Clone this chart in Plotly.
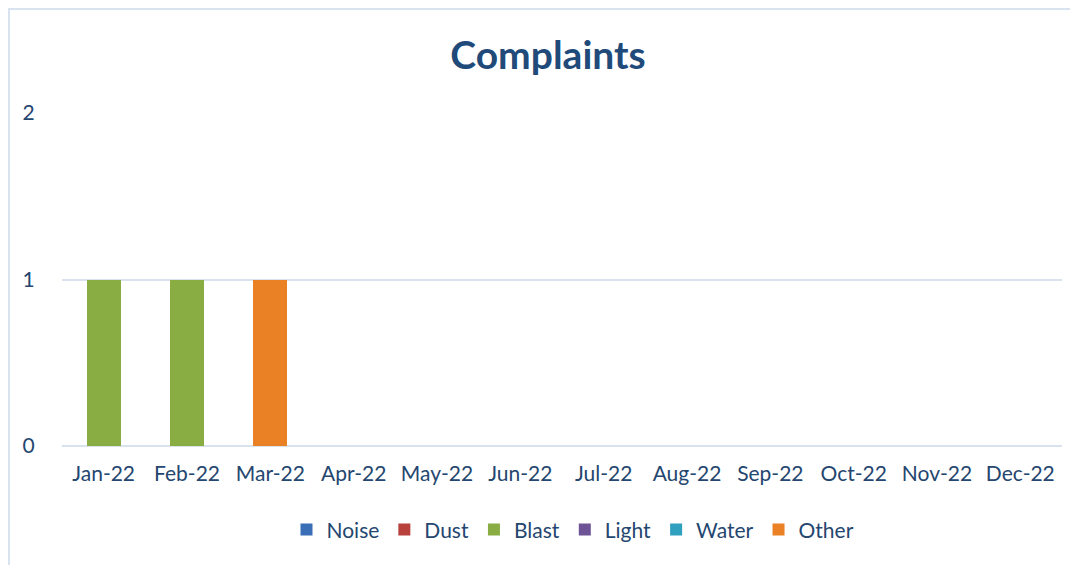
import plotly.graph_objects as go

months = ["Jan-22", "Feb-22", "Mar-22", "Apr-22", "May-22", "Jun-22",
          "Jul-22", "Aug-22", "Sep-22", "Oct-22", "Nov-22", "Dec-22"]
noise = [0, 0, 0, 0, 0, 0, 0, 0, 0, 0, 0, 0]
dust = [0, 0, 0, 0, 0, 0, 0, 0, 0, 0, 0, 0]
blast = [1, 1, 0, 0, 0, 0, 0, 0, 0, 0, 0, 0]
light = [0, 0, 0, 0, 0, 0, 0, 0, 0, 0, 0, 0]
water = [0, 0, 0, 0, 0, 0, 0, 0, 0, 0, 0, 0]
other = [0, 0, 1, 0, 0, 0, 0, 0, 0, 0, 0, 0]

series = [
    ("Noise", noise, "#3a6fb8"),
    ("Dust", dust, "#b8403d"),
    ("Blast", blast, "#8aad43"),
    ("Light", light, "#6e5496"),
    ("Water", water, "#2fa0bd"),
    ("Other", other, "#ea8125"),
]

TEXT = "#24466f"
FONT = "Lato"
W, H = 1070, 557
L, R, T, B = 54, 16, 105, 119

fig = go.Figure()
for name, vals, col in series:
    fig.add_trace(go.Bar(x=months, y=vals, name=name, marker=dict(color=col, line=dict(width=0))))

fig.update_layout(
    width=W, height=H,
    barmode="stack", bargap=0.59,
    plot_bgcolor="white", paper_bgcolor="white",
    margin=dict(l=L, r=R, t=T, b=B),
    font=dict(family=FONT, size=21, color=TEXT),
    title=dict(text="<b>Complaints</b>", x=540 / W, xref="container", xanchor="center",
               y=1 - 47 / H, yref="container", yanchor="middle",
               font=dict(family=FONT, size=39, color="#1f4a7a")),
    showlegend=True,
    legend=dict(orientation="h", x=0.511, xanchor="center", y=-0.252, yanchor="middle",
                font=dict(family=FONT, size=21, color=TEXT), traceorder="normal",
                itemwidth=30, itemclick=False),
    xaxis=dict(showgrid=False, showline=False, zeroline=False, ticks="outside",
               ticklen=9, tickcolor="rgba(0,0,0,0)", tickfont=dict(size=21, color=TEXT)),
    yaxis=dict(range=[0, 2], dtick=1, showgrid=True, gridcolor="#d9e3f0", gridwidth=2,
               zeroline=True, zerolinecolor="#d9e3f0", zerolinewidth=2, showline=False,
               ticks="outside", ticklen=22, tickcolor="rgba(0,0,0,0)",
               tickfont=dict(size=21, color=TEXT)),
    shapes=[dict(type="rect", xref="paper", yref="paper", x0=(1 - L) / 1000, x1=1.2, y0=-0.6,
                 y1=(H - B - 1) / (H - T - B), line=dict(color="#d9e3f0", width=2),
                 fillcolor="rgba(0,0,0,0)", layer="below")],
)

fig.write_html("out.html")
